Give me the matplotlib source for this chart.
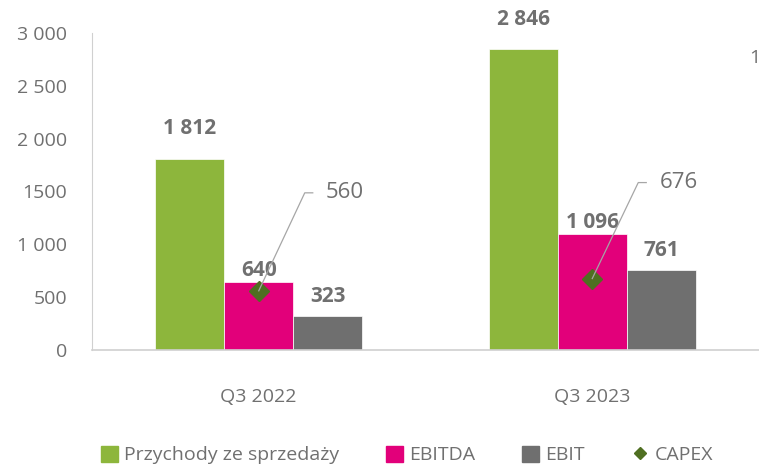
import matplotlib
matplotlib.use("Agg")
import matplotlib.pyplot as plt
from matplotlib.lines import Line2D
from matplotlib.patches import Patch
import numpy as np

plt.rcParams['font.family'] = ['Open Sans', 'DejaVu Sans']

categories = ["Q3 2022", "Q3 2023"]
revenue = [1812, 2846]
ebitda = [640, 1096]
ebit = [323, 761]
capex = [560, 676]
series_names = ["Przychody ze sprzedaży", "EBITDA", "EBIT", "CAPEX"]

def fmt(v):
    return f"{v:,.0f}".replace(",", " ")

GREEN = "#8db63c"
PINK = "#e2007a"
GREY = "#6f6f6f"
CAPEX_C = "#4f6f21"
TXT = "#707070"

fig = plt.figure(figsize=(7.59, 4.65), dpi=100)
ax = fig.add_axes([92/759, 1-350/465, 1-92/759, (350-33)/465])

x = np.arange(len(categories))
ax.set_xlim(-0.5, 1.5)
ax.set_ylim(0, 3000)

w = 0.207
bars_data = [(revenue, GREEN, -w, 30), (ebitda, PINK, 0, 12), (ebit, GREY, w, 19)]
for vals, col, off, lab_off in bars_data:
    ax.bar(x + off, vals, width=w, color=col, edgecolor='white', linewidth=0.5, zorder=2)
    for xi, v in zip(x, vals):
        ax.annotate(fmt(v), (xi + off, v), xytext=(0, lab_off), textcoords='offset pixels',
                    ha='center', va='center', fontsize=15, fontweight='bold', color=TXT, zorder=5)

ax.plot(x, capex, linestyle='none', marker='D', markersize=10, color=CAPEX_C, zorder=4)
ax.set_xlim(-0.5, 1.5)
ax.set_ylim(0, 3000)

# leader-line labels for CAPEX
label_dx = [86, 87]
label_dy = [98, 96]
for xi, v, dx, dy in zip(x, capex, label_dx, label_dy):
    ax.annotate(fmt(v), (xi, v), xytext=(dx, dy), textcoords='offset pixels',
                ha='center', va='center', fontsize=16, color=TXT, zorder=6)
    px, py = ax.transData.transform((xi, v))
    pts = np.array([[px, py], [px + 46, py + dy], [px + 54, py + dy]])
    dpts = ax.transData.inverted().transform(pts)
    ax.plot(dpts[:, 0], dpts[:, 1], color='#a6a6a6', linewidth=0.9, zorder=5)

ax.set_xlim(-0.5, 1.5)
ax.set_ylim(0, 3000)
ax.set_yticks([0, 500, 1000, 1500, 2000, 2500, 3000])
ax.set_yticklabels(["0", "500", "1 000", "1500", "2 000", "2 500", "3 000"])
ax.set_xticks(x)
ax.set_xticklabels(categories)
ax.tick_params(axis='both', length=0, labelsize=14, labelcolor=TXT)
ax.tick_params(axis='x', pad=27)
ax.tick_params(axis='y', pad=18)
for s in ['top', 'right']:
    ax.spines[s].set_visible(False)
ax.spines['left'].set_color('#d0d0d0')
ax.spines['bottom'].set_color('#d0d0d0')
ax.spines['bottom'].set_linewidth(1.2)

fig.text(749/759, 1-58/465, "1", fontsize=14, color=TXT, ha='left', va='center')

handles = [Patch(color=GREEN), Patch(color=PINK), Patch(color=GREY),
           Line2D([], [], linestyle='none', marker='D', markersize=6, color=CAPEX_C)]
fig.legend(handles, series_names, loc='center', bbox_to_anchor=(407/759, 1-455/465), ncol=4,
           frameon=False, fontsize=14, labelcolor=TXT, handlelength=0.9, handleheight=0.9,
           handletextpad=0.3, columnspacing=2.4)

fig.savefig("out.png", dpi=100)
